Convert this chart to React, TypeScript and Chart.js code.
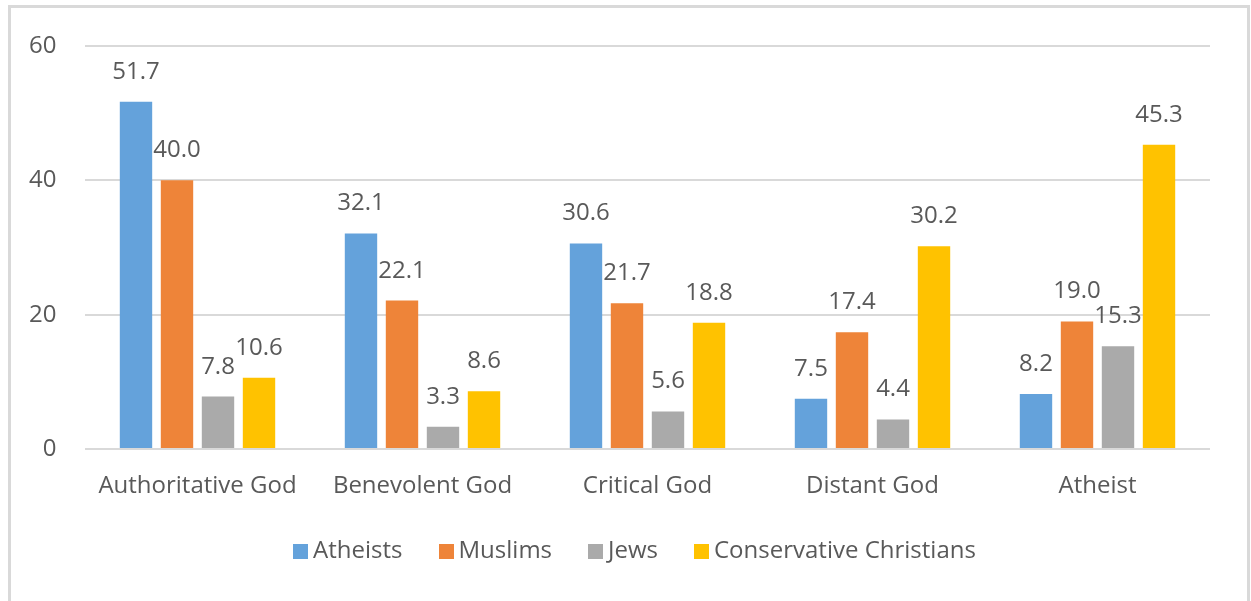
import React, { useEffect, useRef } from "react";
import { Chart, registerables } from "chart.js";

Chart.register(...registerables);

const categories = ["Authoritative God", "Benevolent God", "Critical God", "Distant God", "Atheist"];
const seriesNames = ["Atheists", "Muslims", "Jews", "Conservative Christians"];
const atheists = [51.7, 32.1, 30.6, 7.5, 8.2];
const muslims = [40.0, 22.1, 21.7, 17.4, 19.0];
const jews = [7.8, 3.3, 5.6, 4.4, 15.3];
const conservativeChristians = [10.6, 8.6, 18.8, 30.2, 45.3];
const yTicks = [0, 20, 40, 60];
const seriesColors = ["#64A2DB", "#EE8439", "#AAAAAA", "#FFC200"];

const FONT = "'Open Sans', sans-serif";
const TEXT = "#595959";
const GRID = "#d9d9d9";

function makeSwatch(color: string) {
  const c = document.createElement("canvas");
  c.width = 15;
  c.height = 15;
  const g = c.getContext("2d")!;
  g.fillStyle = color;
  g.fillRect(0, 0, 15, 15);
  return c;
}

const valueLabels = {
  id: "valueLabels",
  afterDatasetsDraw(chart: any) {
    const ctx = chart.ctx;
    ctx.save();
    ctx.font = `24px ${FONT}`;
    ctx.fillStyle = TEXT;
    ctx.textAlign = "center";
    ctx.textBaseline = "alphabetic";
    chart.data.datasets.forEach((ds: any, di: number) => {
      const meta = chart.getDatasetMeta(di);
      meta.data.forEach((bar: any, i: number) => {
        const v = ds.data[i] as number;
        ctx.fillText(v.toFixed(1), bar.x, bar.y - 23);
      });
    });
    ctx.restore();
  },
};

export default function App() {
  const canvasRef = useRef<HTMLCanvasElement | null>(null);

  useEffect(() => {
    if (!canvasRef.current) return;
    const values = [atheists, muslims, jews, conservativeChristians];
    const swatches = seriesColors.map(makeSwatch);
    const chart = new Chart(canvasRef.current, {
      type: "bar",
      data: {
        labels: categories,
        datasets: seriesNames.map((name, i) => ({
          label: name,
          data: values[i],
          backgroundColor: seriesColors[i],
          borderWidth: 0,
          categoryPercentage: 0.729,
          barPercentage: 0.79,
        })),
      },
      options: {
        responsive: false,
        animation: false,
        devicePixelRatio: 1,
        layout: { padding: { left: 66, right: 41, top: 46, bottom: 28 } },
        font: { family: FONT, size: 24 },
        scales: {
          x: {
            grid: { display: false, drawTicks: false },
            border: { display: false },
            ticks: { color: TEXT, font: { family: FONT, size: 24 }, padding: 23, maxRotation: 0 },
            afterFit: (scale: any) => {
              scale.height = 47;
            },
          },
          y: {
            min: yTicks[0],
            max: yTicks[yTicks.length - 1],
            ticks: {
              stepSize: yTicks[1] - yTicks[0],
              color: TEXT,
              font: { family: FONT, size: 24 },
              mirror: true,
              crossAlign: "far",
              padding: -56,
            },
            grid: { color: GRID, lineWidth: 2, drawTicks: false },
            border: { display: false },
            afterFit: (scale: any) => {
              scale.width = 19;
            },
          },
        },
        plugins: {
          tooltip: { enabled: false },
          legend: {
            position: "bottom",
            labels: {
              color: TEXT,
              font: { family: FONT, size: 24 },
              usePointStyle: true,
              pointStyleWidth: 1,
              padding: 43,
              generateLabels: (ch: any) => {
                const items = (Chart as any).defaults.plugins.legend.labels.generateLabels(ch);
                return items.map((it: any, i: number) => ({ ...it, pointStyle: swatches[i] }));
              },
            },
          },
        },
      } as any,
      plugins: [valueLabels],
    });
    return () => chart.destroy();
  }, []);

  return (
    <div
      style={{
        position: "fixed",
        left: 0,
        top: 0,
        width: 1251,
        height: 601,
        overflow: "hidden",
        background: "#ffffff",
      }}
    >
      <canvas
        ref={canvasRef}
        width={1251}
        height={601}
        style={{ position: "absolute", left: 0, top: 0, width: 1251, height: 601 }}
      />
      <div
        style={{
          position: "absolute",
          left: 8,
          top: 5,
          width: 1236,
          height: 640,
          border: "3px solid #d9d9d9",
          pointerEvents: "none",
        }}
      />
    </div>
  );
}
